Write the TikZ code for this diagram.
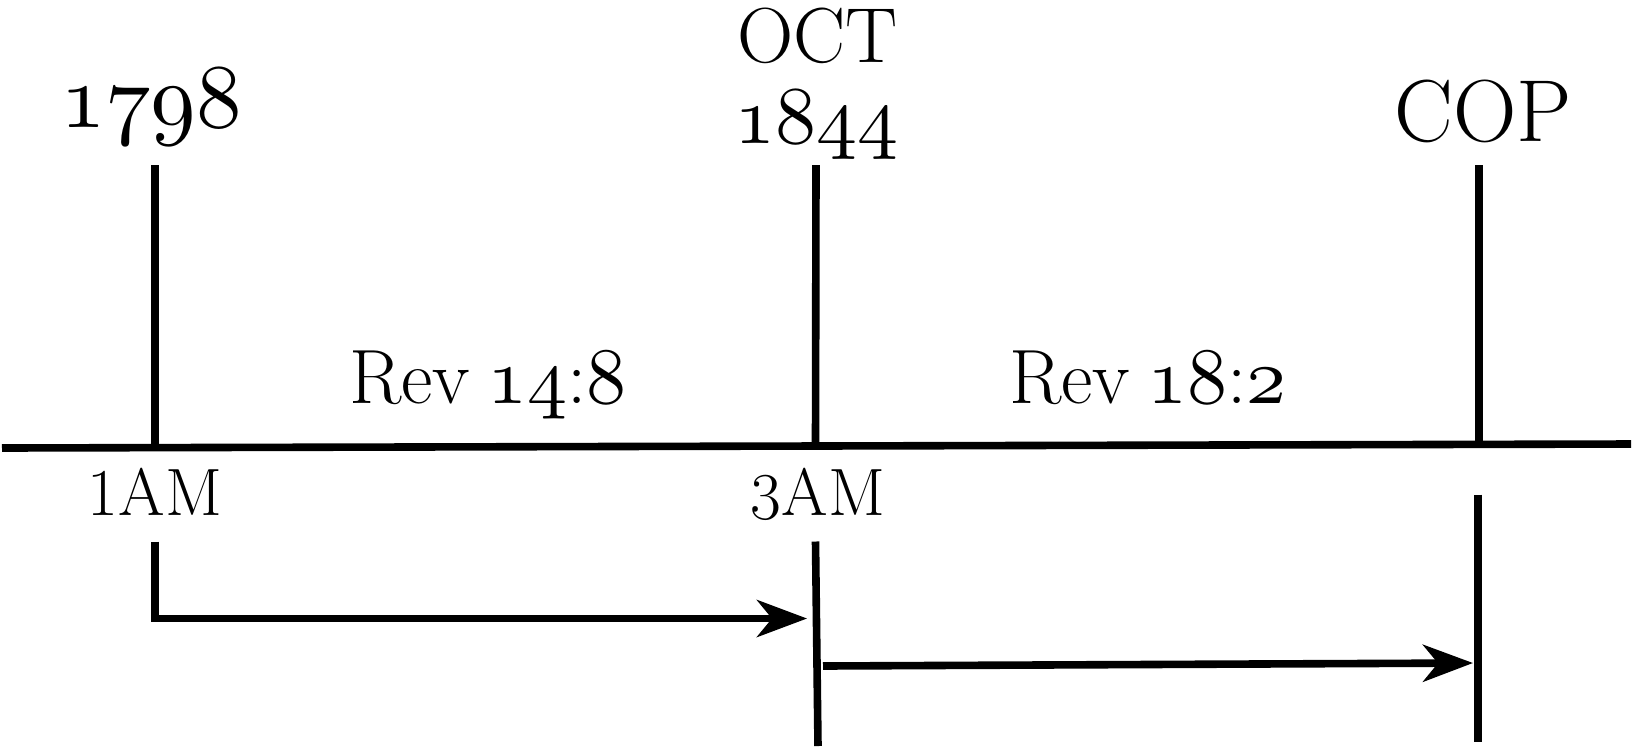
\documentclass[tikz,border=0pt]{standalone}
\usepackage{graphicx}
\usetikzlibrary{arrows.meta}
\newcommand{\osn}[2]{\scalebox{#1}{\fontsize{10}{12}\usefont{OML}{cmm}{m}{it}#2}}
\tikzset{
  ln/.style={line width=3.8pt},
  arr/.style={ln, -{Stealth[length=25pt,width=18.5pt,inset=7.5pt]}},
  lbl/.style={inner sep=0pt, anchor=base},
  mid/.style={font=\fontsize{39}{45}\selectfont},
  cop/.style={font=\fontsize{44}{50}\selectfont},
  rev/.style={font=\fontsize{38.5}{44}\selectfont},
  small/.style={font=\fontsize{33.5}{38}\selectfont},
}
\begin{document}
\begin{tikzpicture}[x=0.5pt,y=-0.5pt]
\useasboundingbox (0,0) rectangle (1633,746);
% main line
\coordinate (hl) at (2,448);
\coordinate (hr) at (1631,444);
\draw[ln] (hl) -- (hr);
% upper ticks
\coordinate (u1t) at (155,165);  \coordinate (u1b) at (155,448);
\coordinate (u2t) at (816,165);  \coordinate (u2b) at (815.5,446);
\coordinate (u3t) at (1479,165); \coordinate (u3b) at (1479,444);
\draw[ln] (u1t) -- (u1b);
\draw[ln] (u2t) -- (u2b);
\draw[ln] (u3t) -- (u3b);
% lower lines
\coordinate (l1t) at (155,541.5);
\coordinate (tip1) at (807,618.5);
\draw[arr] (l1t) |- (tip1);
\coordinate (l2t) at (815.5,541.5); \coordinate (l2b) at (818,746);
\draw[ln] (l2t) -- (l2b);
\coordinate (l3t) at (1478,494.5); \coordinate (l3b) at (1478,741.5);
\draw[ln] (l3t) -- (l3b);
\coordinate (s2) at (823,666);
\coordinate (tip2) at (1473,663);
\draw[arr] (s2) -- (tip2);
% labels
\node[lbl] (t1798) at (151,127.5) {\osn{4.55}{1798}};
\node[lbl,mid] (toct) at (817.5,62) {OCT};
\node[lbl] (t1844) at (816,143) {\osn{4.1}{1844}};
\node[lbl,cop] (tcop) at (1483.5,141.5) {COP};
\node[lbl,rev] (trev1) at (488,403) {Rev\hspace{-0.08em} \osn{4.0}{14}:\osn{4.0}{8}};
\node[lbl,rev] (trev2) at (1148,403) {Rev\hspace{-0.08em} \osn{4.0}{18}:\osn{4.0}{2}};
\node[lbl,small] (t1am) at (155,515) {1AM};
\node[lbl,small] (t3am) at (818,515) {\raisebox{-2pt}{3}AM};
\end{tikzpicture}
\end{document}
